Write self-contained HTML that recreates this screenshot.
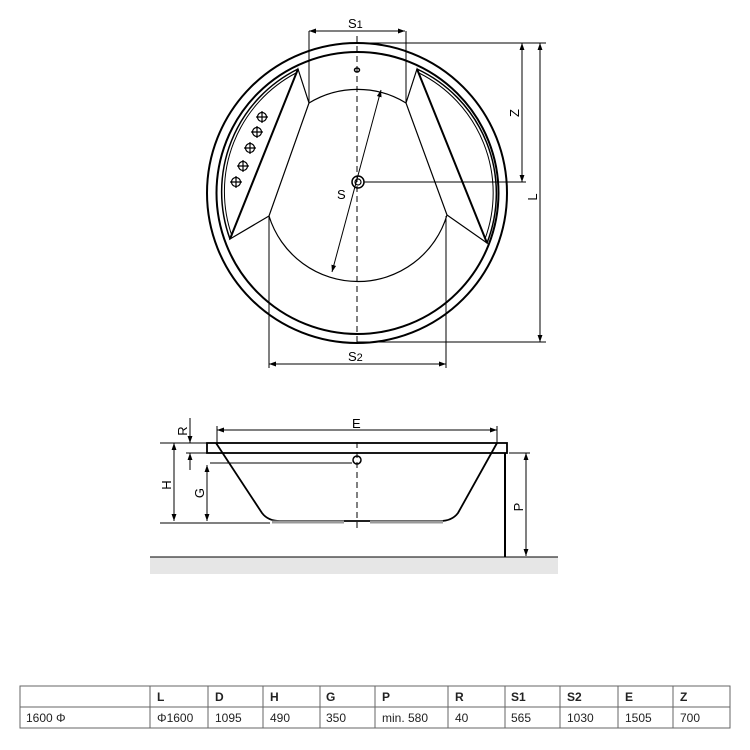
<!DOCTYPE html>
<html><head><meta charset="utf-8"><style>
body{margin:0;background:#fff;width:750px;height:750px;overflow:hidden}
svg{display:block}
text{font-family:"Liberation Sans",sans-serif}
</style></head><body>
<svg width="750" height="750" viewBox="0 0 750 750" xmlns="http://www.w3.org/2000/svg">
<defs>
<marker id="a" viewBox="0 0 10 10" refX="10" refY="5" markerWidth="7" markerHeight="7" orient="auto-start-reverse"><path d="M0,1.5 L10,5 L0,8.5 z" fill="#000"/></marker>
</defs>
<g fill="none" stroke="#000">
<circle cx="357" cy="193" r="150" stroke-width="2"/>
<circle cx="357.5" cy="193" r="141" stroke-width="2"/>
<path d="M298,69 A137,137 0 0 0 230,239" stroke-width="1.5"/>
<path d="M417,69 A137,137 0 0 1 487,243" stroke-width="1.5"/>
<path d="M296,73 A134,134 0 0 0 232,236" stroke-width="1"/>
<path d="M419,73 A134,134 0 0 1 485,239" stroke-width="1"/>
<path d="M309,103 A93,93 0 0 1 406,103" stroke-width="1.2"/>
<path d="M269,216 A93,93 0 0 0 447,215" stroke-width="1.2"/>
<path d="M309,103 L298,69 L230,239 L269,216 Z" stroke-width="1.2"/>
<path d="M298,69 L230,239" stroke-width="2"/>
<path d="M406,103 L417,69 L487,243 L447,215 Z" stroke-width="1.2"/>
<path d="M417,69 L487,243" stroke-width="2"/>
<g stroke-width="1.2">
<circle cx="262" cy="117" r="4.5"/><path d="M262,111v12M256,117h12"/>
<circle cx="257" cy="132" r="4.5"/><path d="M257,126v12M251,132h12"/>
<circle cx="250" cy="148" r="4.5"/><path d="M250,142v12M244,148h12"/>
<circle cx="243" cy="166" r="4.5"/><path d="M243,160v12M237,166h12"/>
<circle cx="236" cy="182" r="4.5"/><path d="M236,176v12M230,182h12"/>
</g>
<ellipse cx="357" cy="70" rx="2.5" ry="2" stroke-width="1.5"/>
<circle cx="358" cy="182" r="6" stroke-width="1.5"/>
<circle cx="358" cy="182" r="3" stroke-width="1.2"/>
<path d="M357,36 V342" stroke-dasharray="6,4" stroke-width="1"/>
<g stroke-width="1">
<path d="M309,31 V103 M406,31 V103"/>
<path d="M309,31 H405" marker-start="url(#a)" marker-end="url(#a)"/>
<path d="M269,216 V368 M446,216 V368"/>
<path d="M269,364 H446" marker-start="url(#a)" marker-end="url(#a)"/>
<path d="M357,43 H546 M364,182 H526 M357,342 H546"/>
<path d="M522,43 V182" marker-start="url(#a)" marker-end="url(#a)"/>
<path d="M540,43 V342" marker-start="url(#a)" marker-end="url(#a)"/>
<path d="M381,90 L332,272" marker-start="url(#a)" marker-end="url(#a)"/>
</g>
<rect x="150" y="557" width="408" height="17" fill="#e6e6e6" stroke="none"/>
<path d="M150,557 H558" stroke-width="1"/>
<rect x="207" y="443" width="300" height="10" stroke-width="1.8"/>
<path d="M216,443 L262,513 Q268,521 280,521 H440 Q452,521 458,513 L497,443" stroke-width="1.8"/>
<path d="M272,522 H344 M370,522 H443" stroke="#999" stroke-width="3"/>
<path d="M357,442 V532" stroke-dasharray="6,4" stroke-width="1"/>
<circle cx="357" cy="460" r="4" stroke-width="1.5"/>
<path d="M505,453 V557" stroke-width="2"/>
<g stroke-width="1">
<path d="M210,463 H352"/>
<path d="M160,443 H207 M186,453 H207 M160,523 H270"/>
<path d="M174,443 V521" marker-start="url(#a)" marker-end="url(#a)"/>
<path d="M207,465 V521" marker-start="url(#a)" marker-end="url(#a)"/>
<path d="M190,418 V443" marker-end="url(#a)"/>
<path d="M190,470 V453" marker-end="url(#a)"/>
<path d="M217,430 H497" marker-start="url(#a)" marker-end="url(#a)"/>
<path d="M217,426 V443 M497,426 V443"/>
<path d="M509,453 H530"/>
<path d="M526,453 V556" marker-start="url(#a)" marker-end="url(#a)"/>
</g>
<g stroke="#666" stroke-width="1">
<rect x="20" y="686" width="710" height="42"/>
<path d="M20,707 H730 M150,686 V728 M208,686 V728 M263,686 V728 M320,686 V728 M375,686 V728 M448,686 V728 M505,686 V728 M560,686 V728 M618,686 V728 M673,686 V728"/>
</g>
</g>
<g font-size="13" fill="#000">
<text x="348" y="28">S<tspan font-size="11">1</tspan></text>
<text x="348" y="361">S<tspan font-size="11">2</tspan></text>
<text x="337" y="199">S</text>
<text transform="translate(519,113) rotate(-90)" text-anchor="middle">Z</text>
<text transform="translate(537,197) rotate(-90)" text-anchor="middle">L</text>
<text x="352" y="428">E</text>
<text transform="translate(187,431) rotate(-90)" text-anchor="middle">R</text>
<text transform="translate(171,485) rotate(-90)" text-anchor="middle">H</text>
<text transform="translate(204,493) rotate(-90)" text-anchor="middle">G</text>
<text transform="translate(523,507) rotate(-90)" text-anchor="middle">P</text>
</g>
<g font-size="12" fill="#222">
<g font-weight="bold">
<text x="157" y="701">L</text><text x="215" y="701">D</text><text x="270" y="701">H</text><text x="326" y="701">G</text><text x="382" y="701">P</text><text x="455" y="701">R</text><text x="511" y="701">S1</text><text x="567" y="701">S2</text><text x="625" y="701">E</text><text x="680" y="701">Z</text>
</g>
<text x="26" y="722">1600 Φ</text><text x="157" y="722">Φ1600</text><text x="215" y="722">1095</text><text x="270" y="722">490</text><text x="326" y="722">350</text><text x="382" y="722">min. 580</text><text x="455" y="722">40</text><text x="511" y="722">565</text><text x="567" y="722">1030</text><text x="625" y="722">1505</text><text x="680" y="722">700</text>
</g>
</svg>
</body></html>
